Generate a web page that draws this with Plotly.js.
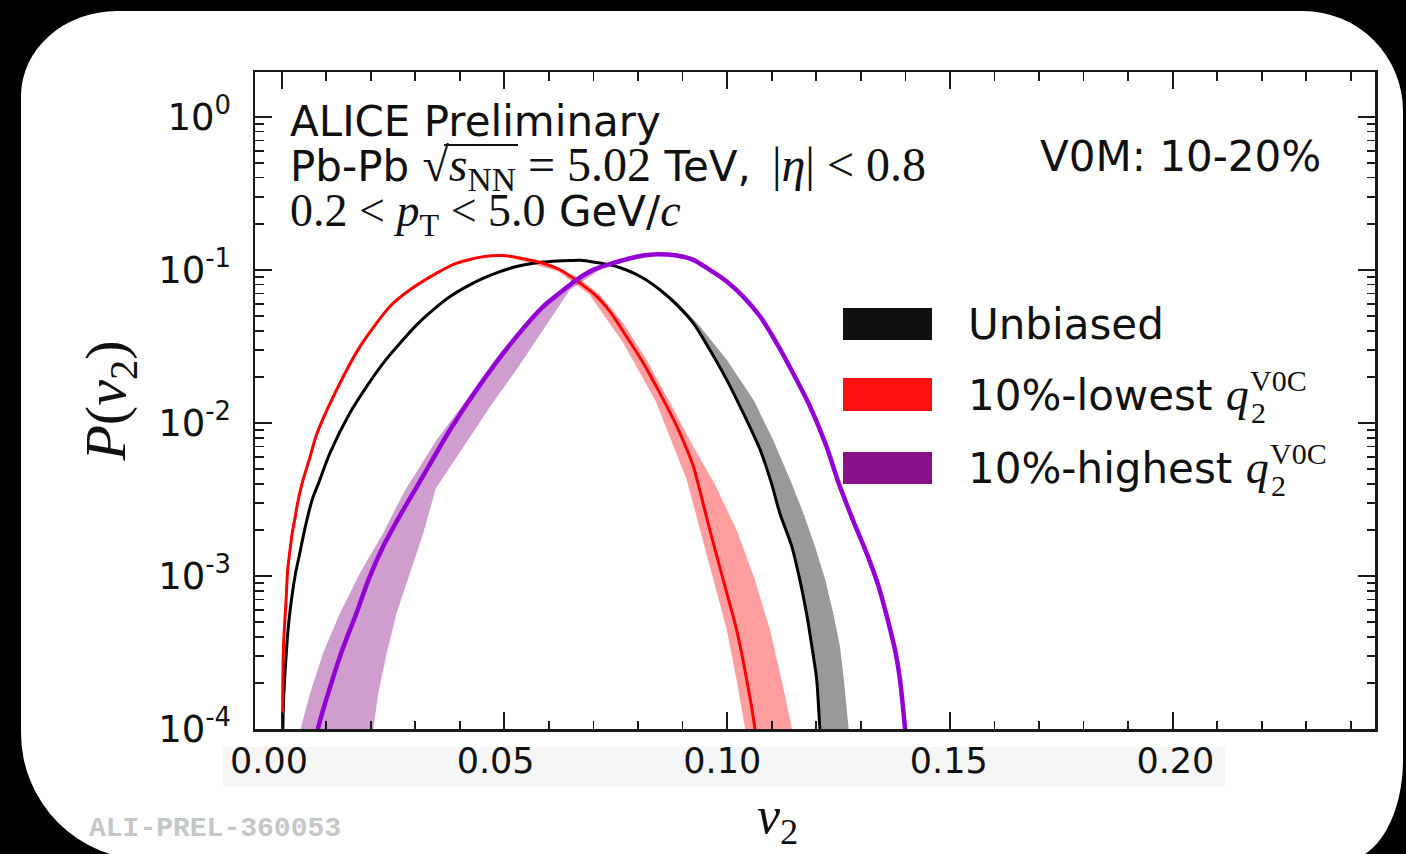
<!DOCTYPE html>
<html><head><meta charset="utf-8">
<script src="https://cdn.plot.ly/plotly-3.0.1.min.js"></script>
<style>
html,body{margin:0;padding:0;background:#000;width:1406px;height:854px;overflow:hidden;}
#card{position:absolute;left:21px;top:11px;width:1382px;height:849px;background:#fff;
 border-radius:96px 100px 58px 127px / 85px 100px 100px 127px;}
#chart{position:absolute;left:0;top:0;width:1406px;height:854px;}
</style></head><body>
<div id="card"></div><div id="chart"></div>
<script>
// ---------------- data ----------------
const seriesNames = ['Unbiased', '10%-lowest', '10%-highest'];

const unbiasedV2 = [0.0002,0.0004,0.001,0.0015,0.002,0.003,0.004,0.005,0.0062,0.0071,0.0082,0.0108,0.0153,0.0191,0.0228,0.0266,0.0303,0.0340,0.0378,0.0415,0.0453,0.0490,0.0527,0.0565,0.0602,0.0647,0.0670,0.0737,0.0774,0.0812,0.0849,0.0887,0.0924,0.0961,0.0999,0.1036,0.1074,0.1100,0.1118,0.1145,0.1163,0.1178,0.1190,0.1201,0.1208,0.1212];
const unbiasedP  = [7.08e-5,1.48e-4,3.02e-4,4.68e-4,6.31e-4,1.00e-3,1.38e-3,1.91e-3,2.69e-3,3.31e-3,3.98e-3,6.31e-3,0.01159,0.01730,0.02455,0.03319,0.04365,0.05470,0.06683,0.07762,0.08810,0.09727,0.1050,0.1104,0.1132,0.1148,0.1153,0.1076,0.0998,0.0881,0.0740,0.0590,0.0448,0.0300,0.0191,0.01159,6.67e-3,3.98e-3,2.58e-3,1.56e-3,9.46e-4,5.73e-4,3.48e-4,2.10e-4,1.02e-4,7.94e-5];
const unbiasedBandHiV2 = [0.0670,0.0737,0.0834,0.0887,0.0939,0.0999,0.1059,0.1103,0.1141,0.1171,0.1197,0.1220,0.1238,0.1253,0.1262,0.1272,0.1276];
const unbiasedBandHiP  = [0.1153,0.1076,0.0818,0.0619,0.0426,0.0258,0.01416,7.76e-3,4.26e-3,2.58e-3,1.56e-3,9.46e-4,5.73e-4,3.48e-4,2.10e-4,1.02e-4,7.94e-5];

const lowestV2 = [0.0002,0.0004,0.0010,0.00135,0.0019,0.0024,0.0030,0.0035,0.0045,0.0064,0.0078,0.0116,0.0176,0.0243,0.0288,0.0348,0.0393,0.0453,0.0497,0.0572,0.0625,0.0699,0.0737,0.0774,0.0812,0.0849,0.0887,0.0924,0.0935,0.0961,0.0991,0.1021,0.1044,0.1062,0.1066];
const lowestP  = [1.26e-4,3.44e-4,7.08e-4,1.10e-3,1.50e-3,1.94e-3,2.39e-3,2.92e-3,3.94e-3,6.03e-3,8.32e-3,0.01486,0.0316,0.05754,0.07396,0.09506,0.1104,0.1219,0.1239,0.1132,0.1000,0.0703,0.0533,0.0366,0.02455,0.01563,9.48e-3,5.20e-3,3.98e-3,2.00e-3,9.46e-4,4.46e-4,2.10e-4,1.02e-4,7.94e-5];
const lowestBandHiV2 = [0.0497,0.0572,0.0662,0.0714,0.0767,0.0819,0.0872,0.0924,0.0972,0.1021,0.1062,0.1096,0.1122,0.1145,0.1150];
const lowestBandHiP  = [0.1239,0.1148,0.0904,0.0686,0.0448,0.0258,0.01346,7.01e-3,3.98e-3,2.00e-3,9.46e-4,4.46e-4,2.10e-4,1.02e-4,7.94e-5];
const lowestBandLoV2 = [0.0497,0.0620,0.0690,0.0765,0.0840,0.0909,0.0939,0.0969,0.0999,0.1021,0.1040,0.1044];
const lowestBandLoP  = [0.1239,0.0977,0.0692,0.0339,0.0138,4.26e-3,2.00e-3,9.46e-4,4.46e-4,2.10e-4,1.02e-4,7.94e-5];

const highestV2 = [0.0080,0.0082,0.0131,0.0168,0.0195,0.0228,0.0269,0.0307,0.0378,0.0453,0.0527,0.0587,0.0625,0.0662,0.0699,0.0737,0.0774,0.0812,0.0842,0.0887,0.0924,0.0961,0.0999,0.1036,0.1074,0.1111,0.1148,0.1186,0.1223,0.1251,0.1283,0.1313,0.1339,0.1358,0.1378,0.1388,0.1399,0.1402];
const highestP  = [8.91e-5,1.02e-4,2.99e-4,5.73e-4,9.46e-4,1.56e-3,2.58e-3,3.98e-3,9.02e-3,0.0191,0.0366,0.0575,0.0708,0.0859,0.0998,0.1089,0.1172,0.1239,0.1265,0.1239,0.1161,0.0998,0.0838,0.0668,0.0495,0.0332,0.0211,0.0128,7.01e-3,3.98e-3,2.29e-3,1.41e-3,8.71e-4,5.50e-4,3.16e-4,2.09e-4,1.02e-4,7.94e-5];
const highestBandHiV2 = [0.0040,0.0043,0.0064,0.0093,0.0131,0.0176,0.0228,0.0275,0.0348,0.0415,0.0490,0.0565,0.0647,0.0720];
const highestBandHiP  = [7.94e-5,1.02e-4,1.72e-4,3.14e-4,5.73e-4,1.05e-3,1.91e-3,3.55e-3,7.76e-3,0.01416,0.02858,0.04943,0.08185,0.1059];
const highestBandLoV2 = [0.0205,0.0206,0.0217,0.0236,0.0258,0.0288,0.0318,0.0346,0.0408,0.0468,0.0527,0.0587,0.0647,0.0720];
const highestBandLoP  = [7.94e-5,1.02e-4,1.72e-4,3.14e-4,5.73e-4,1.05e-3,1.91e-3,3.72e-3,7.01e-3,0.0128,0.0222,0.0406,0.0740,0.1023];

const xTickVals = [0, 0.05, 0.10, 0.15, 0.20];
const xTickText = ['0.00', '0.05', '0.10', '0.15', '0.20'];
const yTickVals = [1e-4, 1e-3, 1e-2, 1e-1, 1];
const yTickText = ['10<sup>-4</sup>', '10<sup>-3</sup>', '10<sup>-2</sup>', '10<sup>-1</sup>', '10<sup>0</sup>'];

// ---------------- helpers ----------------
function bandPolygon(hiX, hiY, loX, loY) {
  return { x: hiX.concat(loX.slice().reverse()), y: hiY.concat(loY.slice().reverse()) };
}
// the unbiased band's lower edge follows the central curve past its maximum
const ubLoV2 = unbiasedV2.filter(v => v >= 0.067);
const ubLoP = unbiasedP.slice(unbiasedV2.length - ubLoV2.length);

const bandUb = bandPolygon(unbiasedBandHiV2, unbiasedBandHiP, ubLoV2, ubLoP);
const bandLo = bandPolygon(lowestBandHiV2, lowestBandHiP, lowestBandLoV2, lowestBandLoP);
const bandHi = bandPolygon(highestBandHiV2, highestBandHiP, highestBandLoV2, highestBandLoP);

const bandStyle = (c) => ({ type: 'scatter', mode: 'lines', fill: 'toself', fillcolor: c, line: { width: 0 }, hoverinfo: 'skip', showlegend: false });
const lineStyle = (c, w) => ({ type: 'scatter', mode: 'lines', line: { color: c, width: w, shape: 'spline', smoothing: 0.7 }, showlegend: false });

const traces = [
  Object.assign(bandStyle('rgba(0,0,0,0.40)'), bandUb, { name: seriesNames[0] + ' syst.' }),
  Object.assign(bandStyle('rgba(255,0,0,0.38)'), bandLo, { name: seriesNames[1] + ' syst.' }),
  Object.assign(bandStyle('rgba(128,0,128,0.38)'), bandHi, { name: seriesNames[2] + ' syst.' }),
  Object.assign(lineStyle('#000000', 3), { x: unbiasedV2, y: unbiasedP, name: seriesNames[0] }),
  Object.assign(lineStyle('#ff0000', 3), { x: lowestV2, y: lowestP, name: seriesNames[1] }),
  Object.assign(lineStyle('#9400d3', 4.5), { x: highestV2, y: highestP, name: seriesNames[2] }),
  // carrier for the tick-label axis (no visible marks)
  { type: 'scatter', mode: 'markers', x: [], y: [], xaxis: 'x2', yaxis: 'y', hoverinfo: 'skip', showlegend: false }
];

// ---------------- layout ----------------
const L = 255, R = 1375, T = 72, B = 729;
const px = (x) => (x - L) / (R - L);
const py = (y) => (B - y) / (B - T);
const S = (t, s) => '<span style="font-family:Liberation Serif;font-size:' + (s || 46) + 'px">' + t + '</span>';
const sans = 'DejaVu Sans';
const EN = '\u2002';

function ann(text, x, y, opts) {
  return Object.assign({ text: text, xref: 'paper', yref: 'paper', x: px(x), y: py(y), xanchor: 'left', yanchor: 'middle',
    showarrow: false, borderpad: 0, font: { family: sans, size: 42, color: '#111' } }, opts || {});
}
const serifFont = (s) => ({ family: 'Liberation Serif', size: s, color: '#111' });

const annotations = [
  ann('ALICE Preliminary', 289, 121),
  ann('Pb-Pb ' + S('√<i>s</i><sub>NN</sub> = 5.02', 48) + ' TeV,' + EN + S('|<i>η</i>| &lt; 0.8', 48), 289, 168),
  ann(S('0.2 &lt; <i>p</i><sub>T</sub> &lt; 5.0') + ' GeV/' + S('<i>c</i>'), 289, 214),
  ann('V0M: 10-20%', 1322, 156, { xanchor: 'right' }),
  ann(seriesNames[0], 967, 324),
  ann(seriesNames[1] + ' ' + S('<i>q</i>'), 967, 394.5),
  ann('V0C', 1249, 380, { font: serifFont(30) }),
  ann('2', 1250, 412, { font: serifFont(30) }),
  ann(seriesNames[2] + ' ' + S('<i>q</i>'), 967, 467.5),
  ann('V0C', 1269, 453, { font: serifFont(30) }),
  ann('2', 1270, 485, { font: serifFont(30) }),
  ann('<i>v</i><sub>2</sub>', 777, 819, { xanchor: 'center', font: serifFont(52) }),
  ann('<b>ALI-PREL-360053</b>', 88, 828, { font: { family: 'Liberation Mono', size: 28, color: '#c3c7c7' } })
];

const shapes = [
  { type: 'rect', xref: 'paper', yref: 'paper', x0: px(223), x1: px(1225), y0: py(786), y1: py(747), fillcolor: '#f6f6f6', line: { width: 0 }, layer: 'below' },
  { type: 'rect', xref: 'paper', yref: 'paper', x0: px(843), x1: px(932), y0: py(340), y1: py(308), fillcolor: '#111111', line: { width: 0 } },
  { type: 'rect', xref: 'paper', yref: 'paper', x0: px(843), x1: px(932), y0: py(411), y1: py(378), fillcolor: '#ff1111', line: { width: 0 } },
  { type: 'rect', xref: 'paper', yref: 'paper', x0: px(843), x1: px(932), y0: py(484), y1: py(452), fillcolor: '#8b118b', line: { width: 0 } },
  // radical bar over s_NN
  { type: 'line', xref: 'paper', yref: 'paper', x0: px(444), x1: px(518), y0: py(145), y1: py(145), line: { color: '#111', width: 2.2 } }
];

const axisCommon = {
  showgrid: false, zeroline: false, showline: true, linecolor: '#1a1a1a', linewidth: 2.5,
  mirror: 'ticks', ticks: 'inside', ticklen: 17, tickwidth: 2, tickcolor: '#1a1a1a'
};

const layout = {
  width: 1406, height: 854,
  margin: { l: L, r: 1406 - R, t: T, b: 854 - B, pad: 0 },
  paper_bgcolor: 'rgba(0,0,0,0)', plot_bgcolor: 'rgba(0,0,0,0)',
  font: { family: sans, color: '#111' },
  showlegend: false,
  xaxis: Object.assign({}, axisCommon, {
    range: [-0.00599, 0.24542], tickmode: 'array', tickvals: xTickVals, ticktext: xTickText, showticklabels: false,
    minor: { dtick: 0.01, tick0: 0, ticks: 'inside', ticklen: 8.5, tickwidth: 1.7, tickcolor: '#1a1a1a' }
  }),
  // label strip of the reference is slightly wider than the axis itself
  xaxis2: {
    overlaying: 'x', anchor: 'y', side: 'bottom', range: [-0.00309, 0.24404],
    tickmode: 'array', tickvals: xTickVals, ticktext: xTickText, ticks: '', showline: false, showgrid: false, zeroline: false,
    tickfont: { family: sans, size: 35, color: '#111' }, ticklabelstandoff: 8
  },
  yaxis: Object.assign({}, axisCommon, {
    type: 'log', range: [-4, 0.292], tickmode: 'array', tickvals: yTickVals, ticktext: yTickText,
    tickfont: { family: sans, size: 37, color: '#111' }, ticklabelstandoff: 14,
    minor: { dtick: 'D1', ticks: 'inside', ticklen: 8.5, tickwidth: 1.7, tickcolor: '#1a1a1a' },
    title: { text: '<i>P</i>(<i>v</i><sub>2</sub>)', font: serifFont(58), standoff: 14 }
  }),
  annotations: annotations,
  shapes: shapes
};

Plotly.newPlot('chart', traces, layout, { displayModeBar: false, staticPlot: true });
</script></body></html>
